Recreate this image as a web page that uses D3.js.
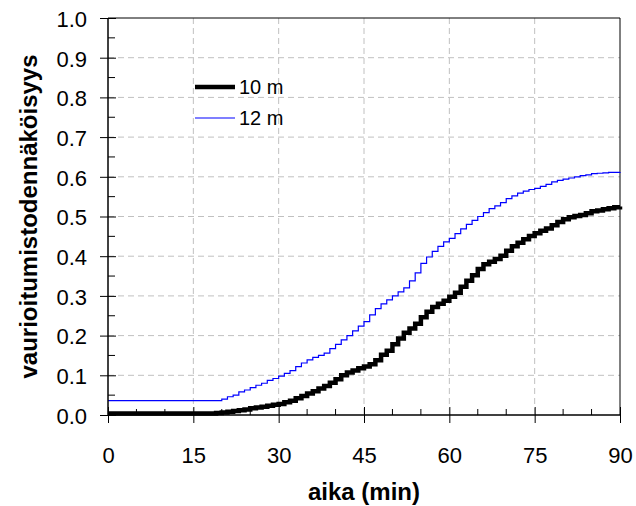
<!DOCTYPE html>
<html><head><meta charset="utf-8">
<script src="https://cdn.jsdelivr.net/npm/d3@7"></script>
<style>body{margin:0;background:#fff}svg{display:block}text{font-family:Arial,"Liberation Sans",sans-serif}</style>
</head><body><svg id="c" width="636" height="506"></svg>
<script>
const times10 = [0,18,19,20,21,22,23,24,25,26,27,28,29,30,31,32,33,34,35,36,37,38,39,40,41,42,43,44,45,46,47,48,49,50,51,52,53,54,55,56,57,58,59,60,61,62,63,64,65,66,67,68,69,70,71,72,73,74,75,76,77,78,79,80,81,82,83,84,85,86,87,88,89,90];
const values10 = [0.004,0.004,0.005,0.006,0.008,0.010,0.012,0.014,0.017,0.019,0.021,0.023,0.026,0.028,0.032,0.036,0.042,0.048,0.054,0.060,0.067,0.073,0.081,0.090,0.100,0.107,0.112,0.118,0.122,0.128,0.138,0.152,0.162,0.178,0.193,0.207,0.218,0.230,0.246,0.260,0.272,0.280,0.288,0.298,0.308,0.323,0.338,0.352,0.368,0.380,0.386,0.393,0.401,0.414,0.425,0.434,0.443,0.451,0.458,0.464,0.470,0.478,0.486,0.493,0.498,0.501,0.504,0.508,0.513,0.515,0.518,0.521,0.523,0.525];
const times12 = [0,19,20,21,22,23,24,25,26,27,28,29,30,31,32,33,34,35,36,37,38,39,40,41,42,43,44,45,46,47,48,49,50,51,52,53,54,55,56,57,58,59,60,61,62,63,64,65,66,67,68,69,70,71,72,73,74,75,76,77,78,79,80,81,82,83,84,85,86,87,88,89,90];
const values12 = [0.036,0.036,0.040,0.046,0.050,0.058,0.063,0.069,0.075,0.080,0.087,0.092,0.098,0.105,0.112,0.122,0.131,0.139,0.145,0.150,0.156,0.167,0.178,0.189,0.200,0.212,0.224,0.235,0.252,0.268,0.280,0.290,0.300,0.310,0.320,0.338,0.358,0.382,0.398,0.412,0.425,0.436,0.445,0.457,0.469,0.480,0.490,0.500,0.510,0.520,0.527,0.535,0.545,0.552,0.559,0.564,0.568,0.571,0.576,0.581,0.587,0.591,0.594,0.597,0.600,0.603,0.605,0.608,0.609,0.610,0.611,0.611,0.612];
const seriesNames = ["10 m","12 m"];
const xTicks = [0,15,30,45,60,75,90];
const yTicks = [0,0.1,0.2,0.3,0.4,0.5,0.6,0.7,0.8,0.9,1.0];
const xTitle = "aika (min)";
const yTitle = "vaurioitumistodennäköisyys";

const svg = d3.select("#c");
const L=108, R=620, T=18, B=415;
const x = d3.scaleLinear().domain([0,90]).range([L,R]);
const y = d3.scaleLinear().domain([0,1]).range([B,T]);

// grid
const g = svg.append("g");
g.selectAll(".vg").data(xTicks.slice(1,-1)).enter().append("line")
  .attr("x1",d=>x(d)).attr("x2",d=>x(d)).attr("y1",T).attr("y2",B)
  .attr("stroke","#c0c0c0").attr("stroke-dasharray","6,4");
g.selectAll(".hg").data(yTicks.slice(1,-1)).enter().append("line")
  .attr("x1",L).attr("x2",R).attr("y1",d=>y(d)).attr("y2",d=>y(d))
  .attr("stroke","#c0c0c0").attr("stroke-dasharray","6,4");

// frame
svg.append("line").attr("x1",L).attr("x2",R).attr("y1",T).attr("y2",T).attr("stroke","#000");
svg.append("line").attr("x1",R).attr("x2",R).attr("y1",T).attr("y2",B).attr("stroke","#000");

// lines
const line = d3.line().x(d=>x(d[0])).y(d=>y(d[1])).curve(d3.curveStepAfter);
const d10 = times10.map((t,i)=>[t,values10[i]]);
const d12 = times12.map((t,i)=>[t,values12[i]]);
svg.append("path").attr("d",line(d12)).attr("fill","none").attr("stroke","#0000ff").attr("stroke-width",1.2);
svg.append("path").attr("d",line(d10)).attr("fill","none").attr("stroke","#000").attr("stroke-width",4.5);

// axes
const xAxis = d3.axisBottom(x).tickValues(xTicks).tickSize(8).tickPadding(24).tickFormat(d3.format("d"));
const xg = svg.append("g").attr("transform",`translate(0,${B})`).call(xAxis);
xg.select(".domain").attr("stroke-width",1.5).attr("d",`M${L},0H${R}`);
xg.selectAll(".tick line").attr("y1",-8).attr("y2",8).attr("stroke-width",1);
xg.selectAll("text").attr("font-size",22).attr("font-family","Arial").attr("fill","#000");
const xMinor = d3.range(5,90,5).filter(v=>v%15!==0);
xg.selectAll(".mx").data(xMinor).enter().append("line")
  .attr("x1",d=>x(d)).attr("x2",d=>x(d)).attr("y1",0).attr("y2",-6).attr("stroke","#000");

const yAxis = d3.axisLeft(y).tickValues(yTicks).tickSize(8).tickPadding(13).tickFormat(d3.format(".1f"));
const yg = svg.append("g").attr("transform",`translate(${L},0)`).call(yAxis);
yg.select(".domain").attr("stroke-width",1.5).attr("d",`M0,${B}V${T}`);
yg.selectAll(".tick line").attr("x1",-8).attr("x2",8);
yg.selectAll("text").attr("font-size",22).attr("font-family","Arial").attr("fill","#000").attr("dy","0.38em");
const yMinor = d3.range(0.05,1,0.1);
yg.selectAll(".my").data(yMinor).enter().append("line")
  .attr("x1",0).attr("x2",7).attr("y1",d=>y(d)).attr("y2",d=>y(d)).attr("stroke","#000");

// titles
svg.append("text").attr("x",(L+R)/2).attr("y",500).attr("text-anchor","middle")
  .attr("font-size",24).attr("font-weight","bold").text(xTitle);
svg.append("text").attr("transform",`translate(37,${(T+B)/2}) rotate(-90)`).attr("text-anchor","middle")
  .attr("font-size",24).attr("font-weight","bold").text(yTitle);

// legend
const leg = svg.append("g");
const legItems = [{name:seriesNames[0],color:"#000",w:4.5,yy:87},{name:seriesNames[1],color:"#0000ff",w:1.2,yy:118}];
legItems.forEach(it=>{
  leg.append("line").attr("x1",195).attr("x2",235).attr("y1",it.yy).attr("y2",it.yy).attr("stroke",it.color).attr("stroke-width",it.w);
  leg.append("text").attr("x",239).attr("y",it.yy+7).attr("font-size",20).text(it.name);
});
</script></body></html>
